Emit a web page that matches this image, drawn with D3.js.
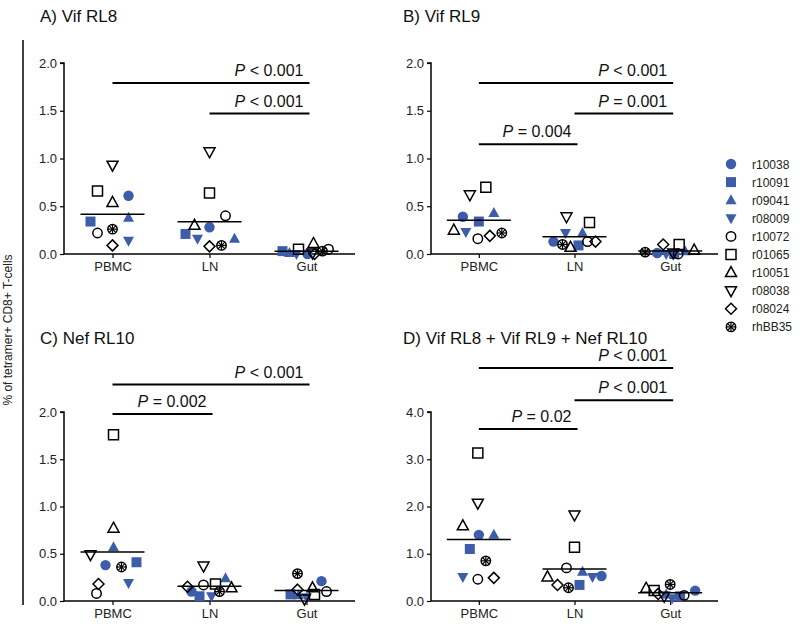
<!DOCTYPE html>
<html>
<head>
<meta charset="utf-8">
<script src="https://cdn.jsdelivr.net/npm/d3@7"></script>
<style>
  body { margin: 0; background: #fff; }
  svg { font-family: "Liberation Sans", Arial, sans-serif; }
</style>
</head>
<body>
<div id="chart"></div>
<script>
// animals, in legend order
var animals = ["r10038", "r10091", "r09041", "r08009", "r10072", "r01065", "r10051", "r08038", "r08024", "rhBB35"];
var shapes  = ["circle", "square", "triangle", "triangleDown", "circle", "square", "triangle", "triangleDown", "diamond", "aster"];
var filled  = [true, true, true, true, false, false, false, false, false, false];
var sites = ["PBMC", "LN", "Gut"];

// % of tetramer+ CD8+ T-cells, one row per site, one value per animal
var vifRL8 = [
  [0.61, 0.34, 0.38, 0.14, 0.22, 0.66, 0.54, 0.93, 0.09, 0.26],
  [0.28, 0.21, 0.16, 0.16, 0.40, 0.64, 0.30, 1.07, 0.08, 0.09],
  [0.00, 0.03, 0.01, 0.00, 0.05, 0.05, 0.11, 0.01, 0.00, 0.03]
];
var vifRL9 = [
  [0.39, 0.34, 0.43, 0.23, 0.16, 0.70, 0.25, 0.62, 0.19, 0.22],
  [0.13, 0.09, 0.22, 0.22, 0.13, 0.33, 0.07, 0.39, 0.13, 0.10],
  [0.01, 0.00, 0.03, 0.00, 0.00, 0.10, 0.04, 0.01, 0.10, 0.02]
];
var nefRL10 = [
  [0.38, 0.41, 0.57, 0.19, 0.08, 1.76, 0.77, 0.49, 0.18, 0.36],
  [0.10, 0.05, 0.24, 0.05, 0.17, 0.18, 0.14, 0.37, 0.15, 0.10],
  [0.21, 0.07, 0.06, 0.04, 0.10, 0.07, 0.14, 0.02, 0.12, 0.29]
];
var combined = [
  [1.40, 1.10, 1.40, 0.51, 0.46, 3.13, 1.59, 2.07, 0.49, 0.85],
  [0.53, 0.34, 0.62, 0.51, 0.70, 1.14, 0.51, 1.82, 0.34, 0.28],
  [0.22, 0.10, 0.14, 0.06, 0.12, 0.22, 0.27, 0.10, 0.15, 0.35]
];

// horizontal scatter of each point around its site (px)
var spreadA = [[16, -22, 16, 16, -15, -15, 0, 0, 0, 0], [0, -24, 25, -12, 16, 0, -15, 0, 0, 12], [1, -24, -17, -10, 22, -8, 7, 6, 8, 16]];
var spreadB = [[-16, 0, 15, -13, -1, 7, -25, -9, 11, 23], [-21, 4, 8, -9, 13, 15, -4, -8, 21, -12], [-13, 4, 15, -4, 8, 9, 24, 3, -7, -25]];
var spreadC = [[-7, 24, 1, 16, -16, 1, 1, -22, -14, 9], [-18, -10, 16, 2, -6, 6, 22, -6, -22, 10], [15, -16, -8, 0, 20, 8, 6, -2, -9, -9]];
var spreadD = [[0, -9, 15, -16, -1, -1, -16, -1, 15, 7], [27, 5, 8, 18, -8, 0, -27, 0, -17, -6], [25, 10, -4, 2, 14, -16, -24, -6, -12, 0]];

// significance brackets: between two sites, drawn at a height in data units
var pA = [{a: "PBMC", b: "Gut", op: "<", p: "0.001", at: 1.79}, {a: "LN", b: "Gut", op: "<", p: "0.001", at: 1.47}];
var pB = [{a: "PBMC", b: "Gut", op: "<", p: "0.001", at: 1.79}, {a: "LN", b: "Gut", op: "=", p: "0.001", at: 1.47}, {a: "PBMC", b: "LN", op: "=", p: "0.004", at: 1.15}];
var pC = [{a: "PBMC", b: "Gut", op: "<", p: "0.001", at: 2.29}, {a: "PBMC", b: "LN", op: "=", p: "0.002", at: 1.98}];
var pD = [{a: "PBMC", b: "Gut", op: "<", p: "0.001", at: 4.93}, {a: "LN", b: "Gut", op: "<", p: "0.001", at: 4.25}, {a: "PBMC", b: "LN", op: "=", p: "0.02", at: 3.64}];

var blue = "#3d5caa";

var svg = d3.select("#chart").append("svg")
  .attr("width", 800).attr("height", 632);

var panels = [
  {title: "A) Vif RL8", data: vifRL8, spread: spreadA, brackets: pA, max: 2, step: 0.5, x0: 64, x1: 355, y0: 254, y1: 63, tx: 40, ty: 22},
  {title: "B) Vif RL9", data: vifRL9, spread: spreadB, brackets: pB, max: 2, step: 0.5, x0: 431, x1: 718, y0: 254, y1: 63, tx: 403, ty: 22},
  {title: "C) Nef RL10", data: nefRL10, spread: spreadC, brackets: pC, max: 2, step: 0.5, x0: 64, x1: 355, y0: 601, y1: 412, tx: 40, ty: 344},
  {title: "D) Vif RL8 + Vif RL9 + Nef RL10", data: combined, spread: spreadD, brackets: pD, max: 4, step: 1, x0: 431, x1: 718, y0: 601, y1: 412, tx: 403, ty: 344}
];

function markPath(shape) {
  if (shape == "square") return "M-5,-5H5V5H-5Z";
  if (shape == "triangle") return "M0,-6L5.5,4H-5.5Z";
  if (shape == "triangleDown") return "M0,6L5.5,-4H-5.5Z";
  if (shape == "diamond") return "M0,-5.5L5.5,0L0,5.5L-5.5,0Z";
  return null;
}

function drawMark(g, i) {
  var shape = shapes[i], fill = filled[i];
  if (shape == "circle" || shape == "aster") {
    g.append("circle").attr("r", fill ? 5.2 : 4.7)
      .attr("fill", fill ? blue : "none")
      .attr("stroke", fill ? "none" : "#000").attr("stroke-width", 1.5);
    if (shape == "aster") {
      [0, 45, 90, 135].forEach(function(a) {
        g.append("line").attr("x1", 0).attr("y1", -4.7).attr("x2", 0).attr("y2", 4.7)
          .attr("transform", "rotate(" + a + ")")
          .attr("stroke", "#000").attr("stroke-width", 1.2);
      });
    }
  } else {
    g.append("path").attr("d", markPath(shape))
      .attr("fill", fill ? blue : "none")
      .attr("stroke", fill ? "none" : "#000").attr("stroke-width", 1.5)
      .attr("stroke-linejoin", "miter");
  }
}

panels.forEach(function(p) {
  var x = d3.scalePoint().domain(sites).range([p.x0, p.x1]).padding(0.5);
  var y = d3.scaleLinear().domain([0, p.max]).range([p.y0, p.y1]);
  var g = svg.append("g");

  // title
  g.append("text").attr("x", p.tx).attr("y", p.ty)
    .attr("font-size", 17).attr("fill", "#111").text(p.title);

  // axes
  var yAxis = g.append("g").attr("transform", "translate(" + p.x0 + ",0)")
    .call(d3.axisLeft(y).tickValues(d3.range(0, p.max + 0.001, p.step)).tickFormat(d3.format(".1f")).tickSize(4).tickPadding(3));
  var xAxis = g.append("g").attr("transform", "translate(0," + p.y0 + ")")
    .call(d3.axisBottom(x).tickSize(4).tickPadding(4).tickSizeOuter(0));
  [yAxis, xAxis].forEach(function(ax) {
    ax.select(".domain").attr("stroke", "#000").attr("stroke-width", 1.5);
    ax.selectAll(".tick line").attr("stroke", "#000").attr("stroke-width", 1.2);
    ax.selectAll(".tick text").attr("font-size", 13).attr("fill", "#222")
      .style("font-family", "'Liberation Sans', Arial, sans-serif");
  });
  yAxis.select(".domain").attr("d", "M-4," + p.y1 + "H0V" + p.y0);
  xAxis.select(".domain").attr("d", "M" + p.x0 + ",0H" + p.x1);

  // points
  sites.forEach(function(s, si) {
    p.data[si].forEach(function(v, i) {
      var mg = g.append("g")
        .attr("transform", "translate(" + (x(s) + p.spread[si][i]) + "," + y(v) + ")");
      drawMark(mg, i);
    });
    // mean line
    var m = d3.mean(p.data[si]);
    g.append("line").attr("x1", x(s) - 32).attr("x2", x(s) + 32)
      .attr("y1", y(m)).attr("y2", y(m))
      .attr("stroke", "#000").attr("stroke-width", 1.5);
  });

  // brackets
  p.brackets.forEach(function(b) {
    g.append("line").attr("x1", x(b.a)).attr("x2", x(b.b) + 3)
      .attr("y1", y(b.at)).attr("y2", y(b.at))
      .attr("stroke", "#000").attr("stroke-width", 2);
    var t = g.append("text").attr("x", x(b.b) - 3).attr("y", y(b.at) - 7)
      .attr("text-anchor", "end").attr("font-size", 16).attr("fill", "#111");
    t.append("tspan").attr("font-style", "italic").text("P");
    t.append("tspan").text(" " + b.op + " " + b.p);
  });
});

// shared y title and bracket line
svg.append("line").attr("x1", 23).attr("x2", 23).attr("y1", 40).attr("y2", 605)
  .attr("stroke", "#000").attr("stroke-width", 1.5);
svg.append("text").attr("transform", "translate(12,330)rotate(-90)")
  .attr("text-anchor", "middle").attr("font-size", 12).attr("fill", "#222")
  .text("% of tetramer+ CD8+ T-cells");

// legend
var leg = svg.append("g").attr("transform", "translate(731,164)");
animals.forEach(function(a, i) {
  var row = leg.append("g").attr("transform", "translate(0," + (i * 18.1) + ")");
  drawMark(row, i);
  row.append("text").attr("x", 21).attr("y", 4.5).attr("font-size", 12).attr("fill", "#222").text(a);
});
</script>
</body>
</html>
